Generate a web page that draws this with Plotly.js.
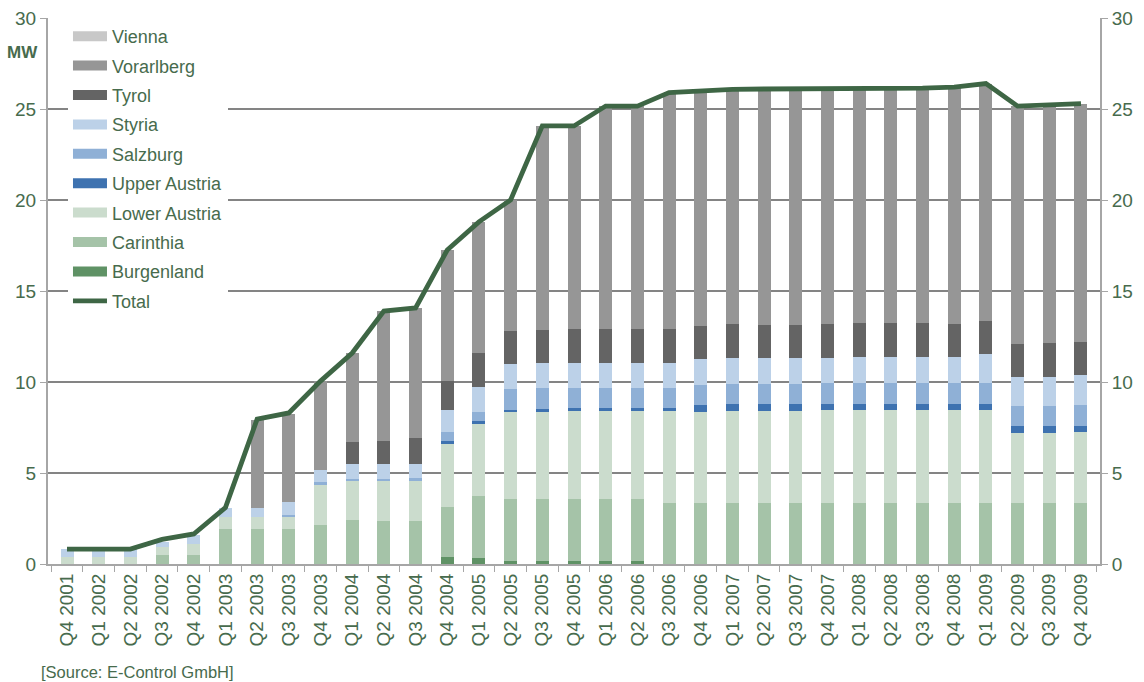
<!DOCTYPE html>
<html>
<head>
<meta charset="utf-8">
<script src="https://cdn.plot.ly/plotly-3.0.1.min.js"></script>
<style>
html,body{margin:0;padding:0;background:#fff;}
#chart{width:1144px;height:682px;}
</style>
</head>
<body>
<div id="chart"></div>
<script>
const quarters = ["Q4 2001","Q1 2002","Q2 2002","Q3 2002","Q4 2002","Q1 2003","Q2 2003","Q3 2003","Q4 2003",
  "Q1 2004","Q2 2004","Q3 2004","Q4 2004","Q1 2005","Q2 2005","Q3 2005","Q4 2005",
  "Q1 2006","Q2 2006","Q3 2006","Q4 2006","Q1 2007","Q2 2007","Q3 2007","Q4 2007",
  "Q1 2008","Q2 2008","Q3 2008","Q4 2008","Q1 2009","Q2 2009","Q3 2009","Q4 2009"];

const burgenland   = [0,0,0,0,0,0,0,0,0, 0,0,0,0.38,0.33,0.16,0.16,0.16, 0.16,0.16,0,0,0,0,0,0, 0,0,0,0,0,0,0,0];
const carinthia    = [0,0,0,0.48,0.48,1.94,1.94,1.94,2.14, 2.42,2.36,2.36,2.75,3.41,3.41,3.41,3.41, 3.41,3.41,3.35,3.35,3.35,3.35,3.35,3.35, 3.35,3.35,3.35,3.35,3.35,3.35,3.35,3.35];
const lowerAustria = [0.4,0.4,0.4,0.44,0.62,0.66,0.66,0.66,2.2, 2.14,2.2,2.2,3.46,3.95,4.78,4.78,4.84, 4.84,4.84,5.06,5.0,5.06,5.06,5.06,5.11, 5.11,5.11,5.11,5.11,5.11,3.85,3.85,3.9];
const upperAustria = [0,0,0,0,0,0,0,0,0, 0,0,0,0.16,0.17,0.11,0.17,0.16, 0.16,0.16,0.16,0.39,0.38,0.38,0.38,0.33, 0.33,0.33,0.33,0.33,0.33,0.38,0.38,0.33];
const salzburg     = [0,0,0,0,0,0,0,0.11,0.16, 0.11,0.11,0.16,0.49,0.49,1.16,1.15,1.1, 1.1,1.1,1.1,1.1,1.1,1.1,1.1,1.16, 1.16,1.16,1.16,1.16,1.16,1.1,1.1,1.16];
const styria       = [0.42,0.4,0.4,0.27,0.51,0.49,0.49,0.71,0.66, 0.82,0.82,0.77,1.21,1.38,1.37,1.37,1.37, 1.37,1.37,1.37,1.42,1.43,1.43,1.43,1.37, 1.42,1.42,1.42,1.42,1.59,1.59,1.59,1.64];
const tyrol        = [0,0,0,0,0,0,0,0,0, 1.21,1.27,1.43,1.59,1.86,1.81,1.82,1.87, 1.87,1.87,1.87,1.82,1.87,1.81,1.81,1.87, 1.87,1.87,1.87,1.82,1.81,1.82,1.87,1.82];
const vorarlberg   = [0,0,0,0,0,0,4.84,4.84,4.89, 4.89,7.14,7.15,7.2,7.21,7.2,11.21,11.16, 12.25,12.25,12.99,12.92,12.89,12.97,12.97,12.91, 12.91,12.91,12.91,13.01,13.05,13.07,13.06,13.1];
const vienna       = [0,0,0,0,0,0,0,0,0, 0,0,0,0,0,0,0,0, 0,0,0,0,0,0,0,0, 0,0,0,0,0,0,0,0];
const total        = [0.82,0.82,0.82,1.35,1.65,3.1,7.96,8.3,10.05, 11.59,13.9,14.07,17.25,18.8,20.0,24.07,24.07, 25.16,25.16,25.9,26.0,26.08,26.1,26.1,26.1, 26.15,26.15,26.15,26.2,26.4,25.16,25.2,25.3];

const seriesNames  = ["Burgenland","Carinthia","Lower Austria","Upper Austria","Salzburg","Styria","Tyrol","Vorarlberg","Vienna"];
const seriesValues = [burgenland, carinthia, lowerAustria, upperAustria, salzburg, styria, tyrol, vorarlberg, vienna];
const seriesColors = ["#5f9265","#a5c3a8","#cbdccd","#3e72b0","#8fb0d6","#bcd1e8","#646464","#969696","#c8c8c8"];

const txt = "#476b4d";
const font = "Liberation Sans, Arial, sans-serif";

const traces = [];
// Legend proxies first (top of legend = Vienna), wide rectangular swatches, no data drawn
for (let i = seriesNames.length - 1; i >= 0; i--) {
  traces.push({type:"scatter", mode:"lines", name:seriesNames[i], x:[null], y:[null],
    line:{color:seriesColors[i], width:12}, legendgroup:seriesNames[i], hoverinfo:"skip"});
}
// Total line
traces.push({type:"scatter", mode:"lines", name:"Total", x:quarters, y:total,
  line:{color:"#3e6645", width:4.8}, legendgroup:"Total", hoverinfo:"skip"});
// Stacked bars
seriesNames.forEach((n,i)=>{
  traces.push({type:"bar", name:n, x:quarters, y:seriesValues[i],
    marker:{color:seriesColors[i], line:{width:0}}, showlegend:false, legendgroup:n, hoverinfo:"skip"});
});
// Invisible trace to carry the right axis
traces.push({type:"scatter", mode:"lines", x:quarters, y:total, yaxis:"y2", showlegend:false,
  line:{width:0, color:"rgba(0,0,0,0)"}, hoverinfo:"skip"});

const layout = {
  width:1144, height:682,
  margin:{l:48, r:44, t:18, b:118},
  paper_bgcolor:"#fff", plot_bgcolor:"#fff",
  barmode:"stack", bargap:0.59,
  font:{family:font, size:18, color:txt},
  showlegend:true,
  legend:{x:0.019, y:1.0, xanchor:"left", yanchor:"top", traceorder:"grouped",
          tracegroupgap:3, bgcolor:"rgba(255,255,255,1)", font:{size:18, color:txt},
          itemwidth:34},
  xaxis:{type:"category", tickangle:-90, tickfont:{size:19, color:txt},
         showline:true, linecolor:"#a6a6a6", linewidth:2, ticks:"outside", ticklen:6,
         tickcolor:"#a6a6a6", tickson:"boundaries", showgrid:false, zeroline:false,
         range:[-0.6, 32.6], fixedrange:true},
  yaxis:{range:[0,30], dtick:5, showline:true, linecolor:"#a6a6a6", linewidth:2,
         ticks:"outside", ticklen:6, tickcolor:"#a6a6a6", gridcolor:"#848484", gridwidth:1.5,
         zeroline:false, tickfont:{size:19, color:txt}},
  yaxis2:{range:[0,30], dtick:5, overlaying:"y", side:"right", showline:true,
          linecolor:"#a6a6a6", linewidth:2, ticks:"outside", ticklen:6, tickcolor:"#a6a6a6",
          showgrid:false, zeroline:false, tickfont:{size:19, color:txt}},
  annotations:[
    {text:"<b>MW</b>", xref:"paper", yref:"paper", x:-0.0076, y:0.9377, xanchor:"right", yanchor:"middle",
     showarrow:false, font:{size:17, color:txt}},
    {text:"[Source: E-Control GmbH]", xref:"paper", yref:"paper", x:-0.009, y:-0.198,
     xanchor:"left", yanchor:"middle", showarrow:false, font:{size:16.5, color:txt}}
  ]
};

Plotly.newPlot("chart", traces, layout, {staticPlot:true, displayModeBar:false});
</script>
</body>
</html>
